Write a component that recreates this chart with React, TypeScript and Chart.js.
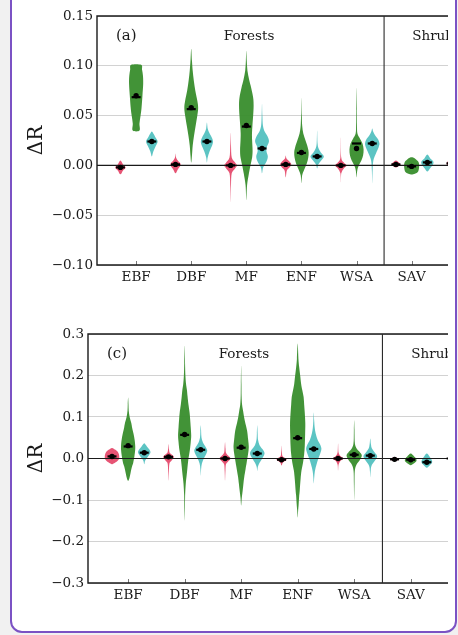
import React, { useEffect, useRef } from 'react';
import { Chart, registerables } from 'chart.js';

Chart.register(...registerables);

// Land-cover classes along the x axis (grouped into forests and shrublands)
const CATEGORIES = ['EBF', 'DBF', 'MF', 'ENF', 'WSA', 'SAV', 'OSH'];
const GROUP_NAMES = ['Forests', 'Shrublands'];
const AXIS_TITLE = 'ΔR';

// ---------- panel (a) ----------
const A_TICKS = [-0.1, -0.05, 0, 0.05, 0.1, 0.15];

const A_MEAN_RED = [-0.002, 0.001, 0.0, 0.001, 0.0, 0.001, 0.002];
const A_MEAN_GREEN = [0.07, 0.058, 0.04, 0.013, 0.017, -0.001, null];
const A_MEAN_CYAN = [0.024, 0.024, 0.017, 0.009, 0.022, 0.003, null];
const A_MEDIAN_RED = [-0.002, 0.001, 0.0, 0.001, 0.0, 0.001, 0.002];
const A_MEDIAN_GREEN = [0.0685, 0.0565, 0.039, 0.0125, 0.022, -0.001, null];
const A_MEDIAN_CYAN = [0.024, 0.024, 0.017, 0.009, 0.022, 0.003, null];

// density profiles: [value, relative density]
const A_SHAPE_RED = [
  [[-0.009, 0], [-0.005, 0.35], [-0.002, 0.7], [0.001, 0.35], [0.005, 0]],
  [[-0.008, 0], [-0.004, 0.3], [0.001, 0.7], [0.005, 0.3], [0.008, 0.07], [0.012, 0]],
  [[-0.037, 0], [-0.02, 0.05], [-0.008, 0.15], [-0.003, 0.6], [0, 0.85], [0.003, 0.6], [0.008, 0.15], [0.02, 0.05], [0.033, 0]],
  [[-0.012, 0], [-0.005, 0.15], [-0.002, 0.5], [0.001, 0.75], [0.004, 0.5], [0.007, 0.1], [0.01, 0]],
  [[-0.017, 0], [-0.008, 0.06], [-0.003, 0.4], [0, 0.78], [0.003, 0.4], [0.008, 0.06], [0.028, 0]],
  [[-0.002, 0], [0.0, 0.5], [0.001, 0.6], [0.003, 0.4], [0.005, 0]],
  [[-0.002, 0], [0.002, 0.6], [0.006, 0]],
];
const A_SHAPE_GREEN = [
  [[0.035, 0.45], [0.042, 0.45], [0.05, 0.6], [0.058, 0.73], [0.07, 0.85], [0.082, 0.95], [0.09, 0.92], [0.096, 0.8], [0.101, 0.67]],
  [[0.003, 0], [0.01, 0.1], [0.02, 0.2], [0.03, 0.38], [0.04, 0.6], [0.05, 0.82], [0.058, 0.93], [0.065, 0.82], [0.075, 0.55], [0.085, 0.35], [0.095, 0.2], [0.105, 0.1], [0.117, 0]],
  [[-0.035, 0], [-0.02, 0.1], [-0.008, 0.35], [0.0, 0.55], [0.008, 0.78], [0.015, 0.84], [0.025, 0.78], [0.032, 0.76], [0.04, 0.82], [0.05, 0.92], [0.06, 0.98], [0.068, 0.92], [0.078, 0.65], [0.086, 0.38], [0.095, 0.15], [0.105, 0.06], [0.115, 0]],
  [[-0.018, 0], [-0.01, 0.1], [-0.004, 0.38], [0.002, 0.72], [0.008, 0.92], [0.013, 0.97], [0.018, 0.85], [0.025, 0.55], [0.032, 0.25], [0.04, 0.1], [0.05, 0.05], [0.068, 0]],
  [[-0.012, 0], [-0.005, 0.1], [0.0, 0.3], [0.005, 0.65], [0.01, 0.88], [0.016, 0.95], [0.022, 0.8], [0.027, 0.45], [0.032, 0.12], [0.04, 0.06], [0.055, 0.04], [0.078, 0]],
  [[-0.009, 0.2], [-0.007, 0.8], [-0.002, 1.0], [0.003, 0.95], [0.006, 0.6], [0.008, 0.2]],
  null,
];
const A_SHAPE_CYAN = [
  [[0.009, 0], [0.014, 0.2], [0.019, 0.5], [0.024, 0.78], [0.028, 0.5], [0.032, 0.2], [0.034, 0]],
  [[0.003, 0], [0.008, 0.1], [0.014, 0.35], [0.02, 0.7], [0.024, 0.82], [0.028, 0.65], [0.033, 0.3], [0.037, 0.1], [0.043, 0]],
  [[-0.008, 0], [-0.002, 0.15], [0.004, 0.6], [0.009, 0.78], [0.014, 0.6], [0.018, 0.62], [0.024, 0.93], [0.029, 0.75], [0.034, 0.35], [0.04, 0.12], [0.05, 0.05], [0.062, 0]],
  [[-0.003, 0], [0.001, 0.15], [0.005, 0.55], [0.009, 0.9], [0.013, 0.5], [0.017, 0.2], [0.022, 0.06], [0.035, 0]],
  [[-0.018, 0], [-0.005, 0.05], [0.005, 0.15], [0.012, 0.5], [0.018, 0.85], [0.022, 0.97], [0.026, 0.8], [0.03, 0.4], [0.034, 0.12], [0.037, 0]],
  [[-0.006, 0], [-0.003, 0.35], [0.001, 0.75], [0.004, 0.8], [0.007, 0.4], [0.011, 0]],
  null,
];

// ---------- panel (c) ----------
const C_TICKS = [-0.3, -0.2, -0.1, 0, 0.1, 0.2, 0.3];

const C_MEAN_RED = [0.005, 0.004, 0.0, -0.003, 0.0, -0.002, 0.0];
const C_MEAN_GREEN = [0.031, 0.058, 0.027, 0.05, 0.009, -0.003, null];
const C_MEAN_CYAN = [0.014, 0.021, 0.012, 0.023, 0.007, -0.009, null];
const C_MEDIAN_RED = [0.005, 0.004, 0.0, -0.003, 0.0, -0.002, 0.0];
const C_MEDIAN_GREEN = [0.029, 0.057, 0.026, 0.049, 0.009, -0.003, null];
const C_MEDIAN_CYAN = [0.014, 0.021, 0.012, 0.023, 0.007, -0.009, null];

const C_SHAPE_RED = [
  [[-0.013, 0.1], [-0.008, 0.6], [-0.002, 0.9], [0.004, 0.95], [0.01, 0.9], [0.016, 0.75], [0.021, 0.45], [0.025, 0.1]],
  [[-0.053, 0], [-0.03, 0.05], [-0.012, 0.12], [-0.006, 0.35], [0.0, 0.6], [0.004, 0.7], [0.009, 0.45], [0.014, 0.15], [0.022, 0.06], [0.035, 0]],
  [[-0.053, 0], [-0.03, 0.05], [-0.014, 0.12], [-0.007, 0.4], [0.0, 0.72], [0.007, 0.4], [0.014, 0.12], [0.024, 0.06], [0.039, 0]],
  [[-0.017, 0], [-0.01, 0.15], [-0.006, 0.45], [-0.003, 0.67], [0.001, 0.45], [0.006, 0.12], [0.015, 0.05], [0.031, 0]],
  [[-0.029, 0], [-0.015, 0.06], [-0.006, 0.3], [0, 0.7], [0.006, 0.3], [0.015, 0.06], [0.036, 0]],
  [[-0.006, 0], [-0.004, 0.4], [-0.002, 0.55], [0.001, 0.35], [0.003, 0]],
  [[-0.004, 0], [0.0, 0.5], [0.004, 0]],
];
const C_SHAPE_GREEN = [
  [[-0.053, 0.05], [-0.045, 0.2], [-0.035, 0.32], [-0.02, 0.5], [-0.01, 0.67], [0.005, 0.82], [0.02, 0.92], [0.03, 0.93], [0.045, 0.85], [0.06, 0.7], [0.075, 0.52], [0.085, 0.42], [0.1, 0.2], [0.115, 0.08], [0.13, 0.05], [0.147, 0]],
  [[-0.15, 0], [-0.12, 0.04], [-0.09, 0.06], [-0.06, 0.15], [-0.04, 0.27], [-0.02, 0.38], [0.0, 0.5], [0.02, 0.68], [0.04, 0.8], [0.055, 0.86], [0.075, 0.8], [0.095, 0.72], [0.11, 0.65], [0.13, 0.5], [0.15, 0.38], [0.165, 0.3], [0.18, 0.18], [0.2, 0.1], [0.23, 0.05], [0.272, 0]],
  [[-0.113, 0], [-0.095, 0.08], [-0.077, 0.2], [-0.06, 0.3], [-0.045, 0.4], [-0.025, 0.58], [-0.01, 0.72], [0.01, 0.9], [0.027, 1.0], [0.045, 0.92], [0.067, 0.78], [0.085, 0.55], [0.1, 0.38], [0.115, 0.25], [0.13, 0.12], [0.15, 0.06], [0.18, 0.04], [0.224, 0]],
  [[-0.142, 0], [-0.125, 0.06], [-0.11, 0.13], [-0.09, 0.2], [-0.077, 0.27], [-0.05, 0.38], [-0.029, 0.5], [-0.01, 0.7], [0.01, 0.85], [0.03, 0.93], [0.06, 0.98], [0.085, 1.0], [0.11, 0.93], [0.13, 0.85], [0.148, 0.78], [0.165, 0.6], [0.18, 0.45], [0.2, 0.33], [0.22, 0.2], [0.24, 0.1], [0.277, 0]],
  [[-0.1, 0], [-0.06, 0.04], [-0.03, 0.08], [-0.015, 0.3], [-0.005, 0.7], [0.007, 1.0], [0.016, 0.7], [0.025, 0.3], [0.035, 0.1], [0.05, 0.05], [0.07, 0.04], [0.092, 0]],
  [[-0.016, 0], [-0.012, 0.4], [-0.006, 0.75], [0.0, 0.7], [0.005, 0.45], [0.012, 0]],
  null,
];
const C_SHAPE_CYAN = [
  [[-0.014, 0], [-0.006, 0.1], [0.0, 0.3], [0.008, 0.62], [0.015, 0.82], [0.022, 0.65], [0.029, 0.35], [0.036, 0.05]],
  [[-0.041, 0], [-0.025, 0.05], [-0.012, 0.15], [0.0, 0.4], [0.01, 0.7], [0.019, 0.85], [0.028, 0.65], [0.038, 0.3], [0.05, 0.1], [0.065, 0.05], [0.08, 0]],
  [[-0.03, 0], [-0.02, 0.08], [-0.01, 0.3], [0.0, 0.65], [0.012, 0.95], [0.022, 0.7], [0.032, 0.3], [0.045, 0.1], [0.06, 0.05], [0.08, 0]],
  [[-0.06, 0], [-0.045, 0.06], [-0.03, 0.15], [-0.015, 0.35], [0.0, 0.6], [0.012, 0.85], [0.024, 1.0], [0.035, 0.8], [0.045, 0.5], [0.06, 0.25], [0.075, 0.12], [0.09, 0.06], [0.111, 0]],
  [[-0.045, 0], [-0.03, 0.05], [-0.018, 0.15], [-0.008, 0.5], [0.005, 0.9], [0.015, 0.55], [0.025, 0.2], [0.035, 0.08], [0.048, 0]],
  [[-0.022, 0], [-0.016, 0.4], [-0.009, 0.7], [-0.002, 0.6], [0.005, 0.35], [0.012, 0]],
  null,
];

// ---------- drawing constants ----------
const SERIES_COLORS = ['rgba(224,46,86,0.82)', 'rgba(54,140,42,0.94)', 'rgba(74,190,188,0.9)'];
const SERIES_OFFSETS = [-0.285, 0, 0.285];
const MAX_HALF_WIDTH = 0.135;
const X_MIN = -0.71;
const X_MAX = 5.66;
const SERIF = "'DejaVu Serif', serif";
const INK = '#1a1a1a';

type Knot = number[];

function traceViolin(ctx: CanvasRenderingContext2D, xs: any, ys: any, cx: number, knots: Knot[]) {
  const raw: number[][] = [];
  for (const [v, d] of knots) raw.push([xs.getPixelForValue(cx + d * MAX_HALF_WIDTH), ys.getPixelForValue(v)]);
  for (let k = knots.length - 1; k >= 0; k--) {
    const [v, d] = knots[k];
    raw.push([xs.getPixelForValue(cx - d * MAX_HALF_WIDTH), ys.getPixelForValue(v)]);
  }
  const pts: number[][] = [];
  for (const p of raw) {
    const q = pts[pts.length - 1];
    if (!q || Math.hypot(p[0] - q[0], p[1] - q[1]) > 0.01) pts.push(p);
  }
  if (pts.length > 2) {
    const a = pts[0], b = pts[pts.length - 1];
    if (Math.hypot(a[0] - b[0], a[1] - b[1]) <= 0.01) pts.pop();
  }
  const n = pts.length;
  ctx.beginPath();
  ctx.moveTo(pts[0][0], pts[0][1]);
  for (let i = 0; i < n; i++) {
    const p0 = pts[(i - 1 + n) % n], p1 = pts[i], p2 = pts[(i + 1) % n], p3 = pts[(i + 2) % n];
    ctx.bezierCurveTo(
      p1[0] + (p2[0] - p0[0]) / 6, p1[1] + (p2[1] - p0[1]) / 6,
      p2[0] - (p3[0] - p1[0]) / 6, p2[1] - (p3[1] - p1[1]) / 6,
      p2[0], p2[1]
    );
  }
  ctx.closePath();
}

interface PanelSpec {
  letter: string;
  ticks: number[];
  decimals: number;
  yAxisWidth: number;
  means: (number | null)[][];
  medians: (number | null)[][];
  shapes: (Knot[] | null)[][];
}

const PANELS: PanelSpec[] = [
  {
    letter: '(a)', ticks: A_TICKS, decimals: 2, yAxisWidth: 85,
    means: [A_MEAN_RED, A_MEAN_GREEN, A_MEAN_CYAN],
    medians: [A_MEDIAN_RED, A_MEDIAN_GREEN, A_MEDIAN_CYAN],
    shapes: [A_SHAPE_RED, A_SHAPE_GREEN, A_SHAPE_CYAN],
  },
  {
    letter: '(c)', ticks: C_TICKS, decimals: 1, yAxisWidth: 76,
    means: [C_MEAN_RED, C_MEAN_GREEN, C_MEAN_CYAN],
    medians: [C_MEDIAN_RED, C_MEDIAN_GREEN, C_MEDIAN_CYAN],
    shapes: [C_SHAPE_RED, C_SHAPE_GREEN, C_SHAPE_CYAN],
  },
];

function formatTick(v: number, decimals: number) {
  const s = Number(v).toFixed(decimals);
  if (Number(s) === 0) return (0).toFixed(decimals);
  return s.replace('-', '\u2212');
}

function buildChart(canvas: HTMLCanvasElement, spec: PanelSpec) {
  const violinPlugin = {
    id: 'violins',
    beforeDatasetsDraw(chart: any) {
      const { ctx, chartArea: area, scales } = chart;
      const xs = scales.x, ys = scales.y;
      ctx.save();
      ctx.beginPath();
      ctx.rect(area.left, area.top, area.right - area.left, area.bottom - area.top);
      ctx.clip();
      spec.shapes.forEach((series, s) => {
        ctx.fillStyle = SERIES_COLORS[s];
        series.forEach((knots, i) => {
          if (!knots) return;
          traceViolin(ctx, xs, ys, i + SERIES_OFFSETS[s], knots);
          ctx.fill();
        });
      });
      // zero reference line
      const y0 = ys.getPixelForValue(0);
      ctx.strokeStyle = INK;
      ctx.lineWidth = 1.2;
      ctx.beginPath();
      ctx.moveTo(area.left, y0);
      ctx.lineTo(area.right, y0);
      ctx.stroke();
      ctx.restore();
    },
    afterDraw(chart: any) {
      const { ctx, chartArea: area, scales } = chart;
      const xs = scales.x;
      ctx.save();
      // inward tick marks on the category axis
      ctx.strokeStyle = '#777';
      ctx.lineWidth = 1;
      CATEGORIES.forEach((_, i) => {
        if (i > X_MAX) return;
        const x = Math.round(xs.getPixelForValue(i)) + 0.5;
        ctx.beginPath();
        ctx.moveTo(x, area.bottom);
        ctx.lineTo(x, area.bottom - 4);
        ctx.stroke();
      });
      // frame
      ctx.strokeStyle = INK;
      ctx.lineWidth = 1.4;
      ctx.beginPath();
      ctx.moveTo(area.right + 2, area.top);
      ctx.lineTo(area.left, area.top);
      ctx.lineTo(area.left, area.bottom);
      ctx.lineTo(area.right + 2, area.bottom);
      ctx.stroke();
      // separator between forests and shrublands
      const xd = xs.getPixelForValue(4.5);
      ctx.lineWidth = 1.1;
      ctx.strokeStyle = '#2a2a2a';
      ctx.beginPath();
      ctx.moveTo(xd, area.top);
      ctx.lineTo(xd, area.bottom);
      ctx.stroke();
      // panel annotations
      ctx.fillStyle = INK;
      ctx.textBaseline = 'middle';
      const ty = area.top + 20;
      ctx.font = `15px ${SERIF}`;
      ctx.textAlign = 'left';
      ctx.fillText(spec.letter, area.left + 19, ty);
      ctx.font = `13.5px ${SERIF}`;
      ctx.textAlign = 'center';
      ctx.fillText(GROUP_NAMES[0], xs.getPixelForValue(2.05), ty);
      ctx.textAlign = 'left';
      ctx.fillText(GROUP_NAMES[1], xs.getPixelForValue(5.01), ty);
      ctx.restore();
    },
  };

  const datasets: any[] = [];
  spec.medians.forEach((arr, s) => {
    datasets.push({
      label: `median-${s}`,
      data: arr.map((m, i) => (m == null ? null : { x: i + SERIES_OFFSETS[s], y: m })).filter(Boolean),
      pointStyle: 'line',
      pointRadius: 4.5,
      borderWidth: 2.2,
      borderColor: '#000',
      backgroundColor: '#000',
    });
  });
  spec.means.forEach((arr, s) => {
    datasets.push({
      label: `mean-${s}`,
      data: arr.map((m, i) => (m == null ? null : { x: i + SERIES_OFFSETS[s], y: m })).filter(Boolean),
      pointStyle: 'circle',
      pointRadius: 2.7,
      borderWidth: 0,
      backgroundColor: '#000',
    });
  });

  const yMin = spec.ticks[0];
  const yMax = spec.ticks[spec.ticks.length - 1];

  return new Chart(canvas, {
    type: 'scatter',
    data: { datasets },
    plugins: [violinPlugin],
    options: {
      responsive: false,
      animation: false,
      devicePixelRatio: 1,
      events: [],
      layout: { autoPadding: false, padding: { top: 16, bottom: 0, left: 0, right: 0 } },
      plugins: { legend: { display: false }, tooltip: { enabled: false }, title: { display: false } },
      scales: {
        x: {
          type: 'linear',
          min: X_MIN,
          max: X_MAX,
          border: { display: false },
          grid: { display: false, drawTicks: false },
          afterBuildTicks: (scale: any) => {
            scale.ticks = CATEGORIES.map((_, i) => ({ value: i })).filter((t) => t.value <= X_MAX);
          },
          afterFit: (scale: any) => {
            scale.height = 35;
            scale.paddingLeft = 0;
            scale.paddingRight = 0;
          },
          ticks: {
            autoSkip: false,
            maxRotation: 0,
            padding: 4,
            color: INK,
            font: { family: SERIF, size: 13.5 },
            callback: (v: any) => CATEGORIES[Math.round(Number(v))],
          },
        },
        y: {
          type: 'linear',
          min: yMin,
          max: yMax,
          border: { display: false },
          grid: {
            drawTicks: false,
            lineWidth: 1,
            color: (c: any) => (c.tick && Math.abs(c.tick.value) < 1e-9 ? 'rgba(0,0,0,0)' : '#d2d2d2'),
          },
          afterBuildTicks: (scale: any) => {
            scale.ticks = spec.ticks.map((v) => ({ value: v }));
          },
          afterFit: (scale: any) => {
            scale.width = spec.yAxisWidth;
            scale.paddingTop = 0;
            scale.paddingBottom = 0;
          },
          title: {
            display: true,
            text: AXIS_TITLE,
            color: INK,
            font: { family: SERIF, size: 20 },
            padding: { top: 13, bottom: 0 },
          },
          ticks: {
            padding: 4,
            color: INK,
            font: { family: SERIF, size: 13.5 },
            callback: (v: any) => formatTick(Number(v), spec.decimals),
          },
        },
      },
    } as any,
  });
}

function Panel({ spec, top }: { spec: PanelSpec; top: number }) {
  const ref = useRef<HTMLCanvasElement | null>(null);
  useEffect(() => {
    if (!ref.current) return;
    const chart = buildChart(ref.current, spec);
    return () => chart.destroy();
  }, [spec]);
  return (
    <canvas
      ref={ref}
      width={436}
      height={300}
      style={{ position: 'absolute', left: 0, top, width: 436, height: 300, display: 'block' }}
    />
  );
}

export default function App() {
  return (
    <div style={{ position: 'fixed', inset: 0, background: '#f1f1f1', overflow: 'hidden' }}>
      <div
        style={{
          position: 'absolute',
          left: 10,
          top: -30,
          width: 447,
          height: 663,
          boxSizing: 'border-box',
          border: '2px solid #7b52c4',
          borderRadius: 12,
          background: '#ffffff',
        }}
      />
      <div style={{ position: 'absolute', left: 12, top: 0, width: 436, height: 630, overflow: 'hidden' }}>
        <Panel spec={PANELS[0]} top={0} />
        <Panel spec={PANELS[1]} top={318} />
      </div>
    </div>
  );
}
